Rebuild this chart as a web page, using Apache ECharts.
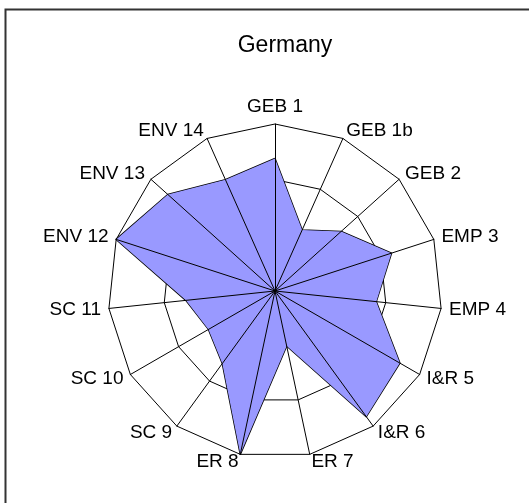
<!DOCTYPE html>
<html>
<head>
<meta charset="utf-8">
<script src="https://cdn.jsdelivr.net/npm/echarts@6/dist/echarts.min.js"></script>
<style>
  html, body { margin: 0; padding: 0; background: #fff; }
  #main { width: 529px; height: 503px; }
</style>
</head>
<body>
<div id="main"></div>
<script>
// indicators in clockwise order starting at the top
var categories = ['GEB 1', 'GEB 1b', 'GEB 2', 'EMP 3', 'EMP 4', 'I&R 5', 'I&R 6',
                  'ER 7', 'ER 8', 'SC 9', 'SC 10', 'SC 11', 'ENV 12', 'ENV 13', 'ENV 14'];
var values = [2.38, 1.2, 1.6, 2.2, 1.83, 2.59, 2.79, 1.01, 3, 1.61, 1.38, 1.61, 3, 2.59, 2.19];
var axisMax = 3;

// echarts lays indicators out counter-clockwise, so keep the first and flip the rest
function clockwise(arr) {
    return [arr[0]].concat(arr.slice(1).reverse());
}

var indicators = clockwise(categories).map(function (c) {
    return { name: c, min: 0, max: axisMax };
});

var myChart = echarts.init(document.getElementById('main'));
var option = {
    animation: false,
    title: {
        text: 'Germany',
        left: 280,
        top: 29,
        textAlign: 'center',
        textStyle: { fontFamily: 'Liberation Sans', fontSize: 23, fontWeight: 'normal', color: '#000' }
    },
    graphic: [{
        type: 'rect',
        shape: { x: 5.5, y: 9.5, width: 600, height: 600 },
        style: { fill: 'none', stroke: '#333', lineWidth: 2 }
    }],
    radar: [{
        // rings and labels, behind the filled area
        center: [275, 291],
        radius: 167,
        startAngle: 90,
        shape: 'polygon',
        splitNumber: 3,
        nameGap: 8,
        axisName: {
            color: '#000',
            fontFamily: 'Liberation Sans',
            fontSize: 19
        },
        axisLine: { show: false },
        splitLine: { lineStyle: { color: '#000', width: 1 } },
        splitArea: { show: false },
        indicator: indicators
    }, {
        // spokes, drawn over the filled area
        z: 10,
        center: [275, 291],
        radius: 167,
        startAngle: 90,
        shape: 'polygon',
        splitNumber: 3,
        axisName: { show: false },
        axisLine: { lineStyle: { color: '#000', width: 1 } },
        splitLine: { show: false },
        splitArea: { show: false },
        indicator: indicators
    }],
    series: [{
        type: 'radar',
        radarIndex: 0,
        symbol: 'none',
        lineStyle: { color: '#000', width: 1.5 },
        areaStyle: { color: '#9999ff', opacity: 1 },
        data: [{ value: clockwise(values), name: 'Germany' }]
    }]
};
myChart.setOption(option);
</script>
</body>
</html>
